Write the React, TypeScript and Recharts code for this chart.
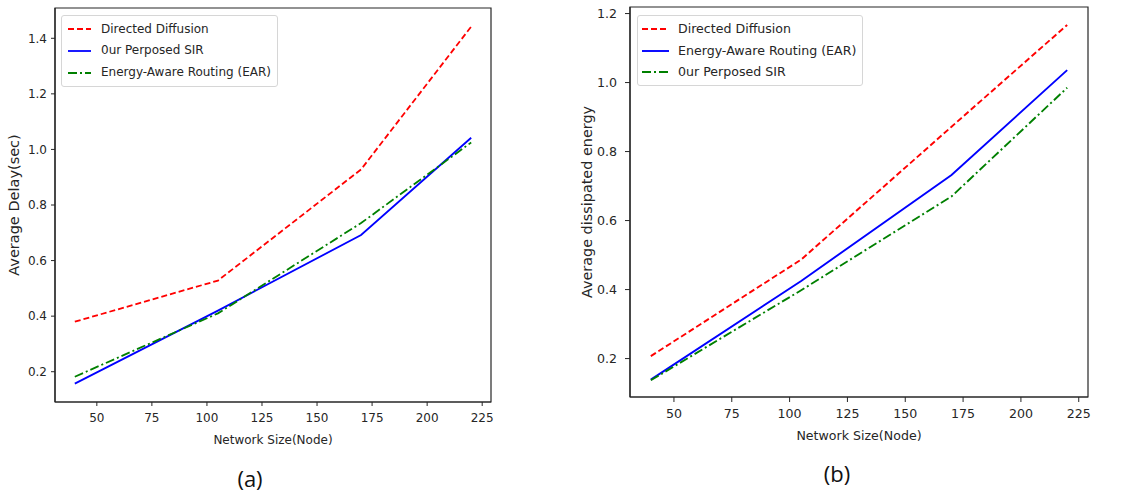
import React from 'react';
import { LineChart, Line, XAxis, YAxis, Legend, ReferenceArea } from 'recharts';

const networkSize = [40, 105, 170, 220];

const delayDirectedDiffusion = [0.38, 0.528, 0.928, 1.442];
const delayOurSIR = [0.157, 0.42, 0.692, 1.042];
const delayEAR = [0.182, 0.41, 0.735, 1.025];

const energyDirectedDiffusion = [0.207, 0.487, 0.872, 1.167];
const energyEAR = [0.139, 0.425, 0.732, 1.036];
const energyOurSIR = [0.137, 0.398, 0.67, 0.985];

const xTicks = [50, 75, 100, 125, 150, 175, 200, 225];
const delayTicks = [0.2, 0.4, 0.6, 0.8, 1.0, 1.2, 1.4];
const energyTicks = [0.2, 0.4, 0.6, 0.8, 1.0, 1.2];

const FONT = '"DejaVu Sans", sans-serif';
const AXIS = '#262626';

type Series = { key: string; name: string; color: string; dash?: string };

const delayData = networkSize.map((x, i) => ({
  x,
  dd: delayDirectedDiffusion[i],
  sir: delayOurSIR[i],
  ear: delayEAR[i],
}));

const energyData = networkSize.map((x, i) => ({
  x,
  dd: energyDirectedDiffusion[i],
  ear: energyEAR[i],
  sir: energyOurSIR[i],
}));

const delaySeries: Series[] = [
  { key: 'dd', name: 'Directed Diffusion', color: '#ff0000', dash: '6 3' },
  { key: 'sir', name: '0ur Perposed SIR', color: '#0000ff' },
  { key: 'ear', name: 'Energy-Aware Routing (EAR)', color: '#008000', dash: '9 3 2 3' },
];

const energySeries: Series[] = [
  { key: 'dd', name: 'Directed Diffusion', color: '#ff0000', dash: '6 3' },
  { key: 'ear', name: 'Energy-Aware Routing (EAR)', color: '#0000ff' },
  { key: 'sir', name: '0ur Perposed SIR', color: '#008000', dash: '9 3 2 3' },
];

type PanelProps = {
  left: number;
  width: number;
  height: number;
  margin: { top: number; right: number; left: number; bottom: number };
  yAxisWidth: number;
  xAxisHeight: number;
  xDomain: [number, number];
  yDomain: [number, number];
  yTicks: number[];
  data: any[];
  series: Series[];
  xLabel: string;
  yLabel: string;
  xLabelDy: number;
  yLabelX: number;
  fontSize: number;
  yLabelFontSize: number;
  xTickSize: number;
  xTickMargin: number;
  yTickSize: number;
  yTickMargin: number;
  legend: { left: number; top: number; width: number; height: number; rowH: number; padTop: number; sampleX: number; sampleW: number; textX: number };
  strokeWidth: number;
};

function Panel(p: PanelProps) {
  const tickStyle = { fontFamily: FONT, fontSize: p.fontSize, fill: '#262626' };
  const legendContent = () => (
    <div
      style={{
        position: 'relative',
        width: p.legend.width,
        height: p.legend.height,
        border: '1px solid #d6d6d6',
        borderRadius: 3,
        background: 'rgba(255,255,255,0.85)',
        boxSizing: 'border-box',
        fontFamily: FONT,
        fontSize: p.fontSize,
        color: '#262626',
      }}
    >
      {p.series.map((s, i) => {
        const cy = p.legend.padTop + p.legend.rowH * i + p.legend.rowH / 2;
        return (
          <div key={s.key}>
            <svg
              width={p.legend.sampleW}
              height={6}
              style={{ position: 'absolute', left: p.legend.sampleX, top: cy - 3 }}
            >
              <line
                x1={0}
                y1={3}
                x2={p.legend.sampleW}
                y2={3}
                stroke={s.color}
                strokeWidth={p.strokeWidth}
                strokeDasharray={s.dash}
              />
            </svg>
            <div
              style={{
                position: 'absolute',
                left: p.legend.textX,
                top: cy - p.legend.rowH / 2,
                height: p.legend.rowH,
                lineHeight: p.legend.rowH + 'px',
                whiteSpace: 'nowrap',
              }}
            >
              {s.name}
            </div>
          </div>
        );
      })}
    </div>
  );

  return (
    <div style={{ position: 'absolute', left: p.left, top: 0 }}>
      <LineChart width={p.width} height={p.height} data={p.data} margin={p.margin}>
        <XAxis
          dataKey="x"
          type="number"
          domain={p.xDomain}
          allowDataOverflow
          ticks={xTicks}
          interval={0}
          height={p.xAxisHeight}
          tick={tickStyle}
          tickSize={p.xTickSize}
          tickMargin={p.xTickMargin}
          stroke={AXIS}
          axisLine={{ stroke: AXIS, strokeWidth: 1.2 }}
          tickLine={{ stroke: AXIS }}
          label={{
            content: (props: any) => {
              const vb = props.viewBox;
              return (
                <text
                  x={vb.x + vb.width / 2}
                  y={vb.y + p.xLabelDy}
                  textAnchor="middle"
                  dominantBaseline="central"
                  fontFamily={FONT}
                  fontSize={p.fontSize}
                  fill="#262626"
                >
                  {p.xLabel}
                </text>
              );
            },
          }}
        />
        <YAxis
          type="number"
          domain={p.yDomain}
          allowDataOverflow
          ticks={p.yTicks}
          interval={0}
          width={p.yAxisWidth}
          tick={tickStyle}
          tickSize={p.yTickSize}
          tickMargin={p.yTickMargin}
          tickFormatter={(v: number) => v.toFixed(1)}
          axisLine={{ stroke: AXIS, strokeWidth: 1.2 }}
          tickLine={{ stroke: AXIS }}
          label={{
            content: (props: any) => {
              const vb = props.viewBox;
              const cy = vb.y + vb.height / 2;
              return (
                <text
                  x={p.yLabelX}
                  y={cy}
                  transform={`rotate(-90 ${p.yLabelX} ${cy})`}
                  textAnchor="middle"
                  dominantBaseline="central"
                  fontFamily={FONT}
                  fontSize={p.yLabelFontSize}
                  fill="#262626"
                >
                  {p.yLabel}
                </text>
              );
            },
          }}
        />
        <ReferenceArea
          x1={p.xDomain[0]}
          x2={p.xDomain[1]}
          y1={p.yDomain[0]}
          y2={p.yDomain[1]}
          fill="none"
          fillOpacity={0}
          stroke={AXIS}
          strokeWidth={1.2}
          ifOverflow="visible"
        />
        <Legend
          layout="vertical"
          align="center"
          verticalAlign="middle"
          content={legendContent}
          wrapperStyle={{ position: 'absolute', left: p.legend.left, top: p.legend.top, width: p.legend.width, height: p.legend.height }}
        />
        {p.series.map((s) => (
          <Line
            key={s.key}
            dataKey={s.key}
            name={s.name}
            type="linear"
            stroke={s.color}
            strokeWidth={p.strokeWidth}
            strokeDasharray={s.dash}
            dot={false}
            activeDot={false}
            isAnimationActive={false}
          />
        ))}
      </LineChart>
    </div>
  );
}

export default function App() {
  return (
    <div
      style={{
        position: 'absolute',
        left: 0,
        top: 0,
        width: 1125,
        height: 495,
        background: '#ffffff',
        overflow: 'hidden',
      }}
    >
      <Panel
        left={0}
        width={560}
        height={495}
        margin={{ top: 8, right: 69, left: 0, bottom: 43 }}
        yAxisWidth={55}
        xAxisHeight={50}
        xDomain={[31, 229]}
        yDomain={[0.091, 1.509]}
        yTicks={delayTicks}
        data={delayData}
        series={delaySeries}
        xLabel="Network Size(Node)"
        yLabel="Average Delay(sec)"
        xLabelDy={38}
        yLabelX={14}
        fontSize={12}
        yLabelFontSize={14.5}
        xTickSize={4}
        xTickMargin={7}
        yTickSize={4}
        yTickMargin={4}
        strokeWidth={1.8}
        legend={{ left: 61, top: 15, width: 217, height: 72, rowH: 21.7, padTop: 2.5, sampleX: 6, sampleW: 23, textX: 39 }}
      />
      <Panel
        left={560}
        width={565}
        height={495}
        margin={{ top: 7, right: 37, left: 0, bottom: 48 }}
        yAxisWidth={70}
        xAxisHeight={50}
        xDomain={[31, 229]}
        yDomain={[0.0886, 1.219]}
        yTicks={energyTicks}
        data={energyData}
        series={energySeries}
        xLabel="Network Size(Node)"
        yLabel="Average dissipated energy"
        xLabelDy={38}
        yLabelX={27}
        fontSize={12.6}
        yLabelFontSize={14.4}
        xTickSize={5}
        xTickMargin={7}
        yTickSize={5}
        yTickMargin={8}
        strokeWidth={1.9}
        legend={{ left: 77, top: 15, width: 226, height: 71, rowH: 21.7, padTop: 2, sampleX: 4, sampleW: 27, textX: 40 }}
      />
      <div
        style={{
          position: 'absolute',
          left: 250,
          top: 478,
          transform: 'translate(-50%, -50%)',
          fontFamily: '"Open Sans", "Liberation Sans", sans-serif',
          fontSize: 22,
          color: '#111',
          whiteSpace: 'nowrap',
        }}
      >
        (a)
      </div>
      <div
        style={{
          position: 'absolute',
          left: 837,
          top: 473,
          transform: 'translate(-50%, -50%)',
          fontFamily: '"Open Sans", "Liberation Sans", sans-serif',
          fontSize: 22,
          color: '#111',
          whiteSpace: 'nowrap',
        }}
      >
        (b)
      </div>
    </div>
  );
}
